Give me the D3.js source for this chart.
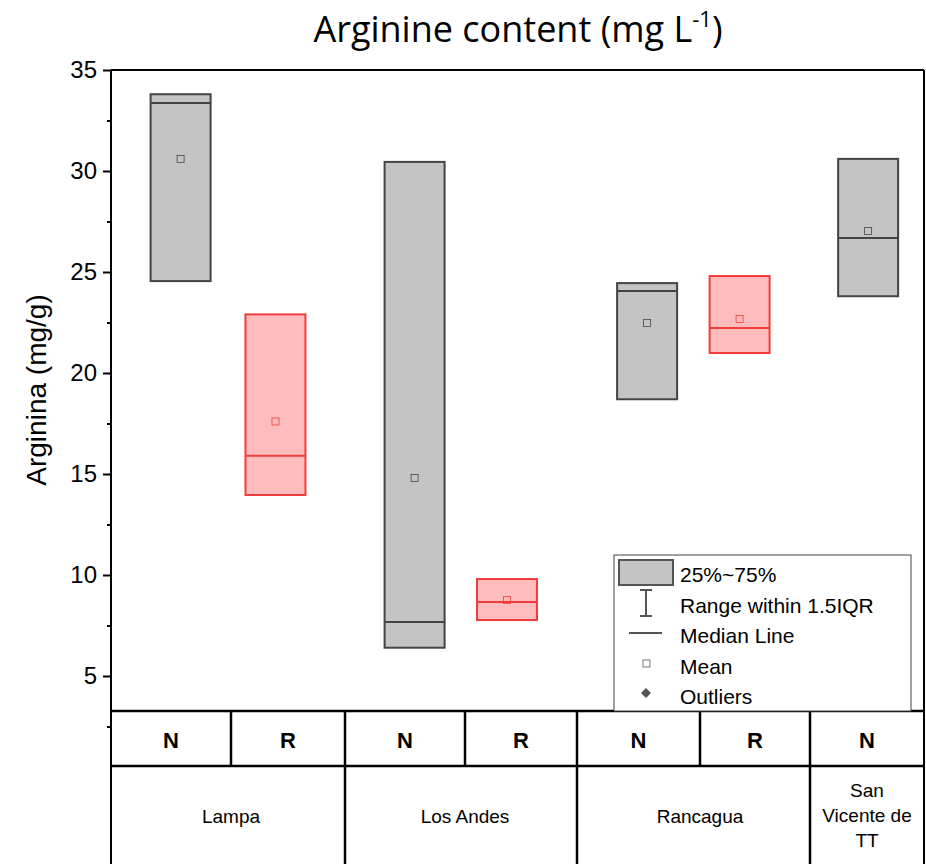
<!DOCTYPE html>
<html><head><meta charset="utf-8">
<script src="https://cdn.jsdelivr.net/npm/d3@7"></script>
<style>body{margin:0;background:#fff}text{font-family:Arial,"Liberation Sans",sans-serif}</style>
</head><body><div id="chart"></div>
<script>
// Data
const groups = ["Lampa", "Los Andes", "Rancagua", "San Vicente de TT"];
const treatments = ["N", "R", "N", "R", "N", "R", "N"];
const groupOf = [0, 0, 1, 1, 2, 2, 3];
const positions = [0.58, 1.39, 2.58, 3.375, 4.57, 5.36, 6.51];
const q1 = [24.55, 13.96, 6.4, 7.77, 18.7, 20.99, 23.8];
const q3 = [33.8, 22.9, 30.45, 9.8, 24.45, 24.8, 30.6];
const medians = [33.37, 15.9, 7.67, 8.66, 24.06, 22.23, 26.68];
const means = [30.6, 17.6, 14.8, 8.76, 22.48, 22.67, 27.03];
const yTicks = [5, 10, 15, 20, 25, 30, 35];

const width = 926, height = 864;
const plotLeft = 111, plotRight = 924, plotTop = 70, plotBottom = 711, rowMid = 766;

const svg = d3.select("#chart").append("svg").attr("width", width).attr("height", height);

// table cells are not all equal width
const x = d3.scaleLinear().domain([0, 1, 2, 3, 4, 5, 6, 7])
  .range([plotLeft, 231, 345, 465, 577, 700, 810, plotRight]);
const y = d3.scaleLinear().domain([5, 35]).range([676, plotTop]);
const boxW = 60;

const plot = svg.append("g");

// Boxes
positions.forEach((p, i) => {
  const red = treatments[i] === "R";
  const stroke = red ? "#f03c3c" : "#444";
  const fill = red ? "#ffbcbc" : "#c4c4c4";
  const cx = x(p);
  plot.append("rect")
    .attr("x", cx - boxW / 2).attr("width", boxW)
    .attr("y", y(q3[i])).attr("height", y(q1[i]) - y(q3[i]))
    .attr("fill", fill).attr("stroke", stroke).attr("stroke-width", 2);
  plot.append("line")
    .attr("x1", cx - boxW / 2).attr("x2", cx + boxW / 2)
    .attr("y1", y(medians[i])).attr("y2", y(medians[i]))
    .attr("stroke", stroke).attr("stroke-width", 2);
  plot.append("rect")
    .attr("x", cx - 3.5).attr("y", y(means[i]) - 3.5).attr("width", 7).attr("height", 7)
    .attr("fill", "none").attr("stroke", stroke).attr("stroke-width", 0.8);
});

// Frame
svg.append("line").attr("x1", plotLeft).attr("x2", plotRight).attr("y1", plotTop).attr("y2", plotTop).attr("stroke", "#000").attr("stroke-width", 2);
svg.append("line").attr("x1", plotRight).attr("x2", plotRight).attr("y1", plotTop).attr("y2", height).attr("stroke", "#000").attr("stroke-width", 2);

// Y axis
const yAxis = svg.append("g").attr("transform", `translate(${plotLeft},0)`)
  .call(d3.axisLeft(y).tickValues(yTicks).tickSize(8).tickPadding(6));
yAxis.select(".domain").remove();
yAxis.selectAll("text").attr("font-size", 24).attr("fill", "#000");
yAxis.selectAll("line").attr("stroke-width", 2);
svg.append("line").attr("x1", plotLeft).attr("x2", plotLeft).attr("y1", plotTop).attr("y2", height).attr("stroke", "#000").attr("stroke-width", 2);
svg.append("g").attr("transform", `translate(${plotLeft},0)`)
  .call(d3.axisLeft(y).tickValues(d3.range(2.5, 35, 5)).tickSize(4).tickFormat(""))
  .call(g => g.select(".domain").remove())
  .selectAll("line").attr("stroke-width", 2);

// Table
const t = svg.append("g").attr("stroke", "#000").attr("stroke-width", 2.5);
t.append("line").attr("x1", plotLeft).attr("x2", plotRight).attr("y1", plotBottom).attr("y2", plotBottom);
t.append("line").attr("x1", plotLeft).attr("x2", plotRight).attr("y1", rowMid).attr("y2", rowMid);
d3.range(1, 7).forEach(k => {
  const edge = groupOf[k] !== groupOf[k - 1];
  t.append("line").attr("x1", x(k)).attr("x2", x(k))
    .attr("y1", plotBottom).attr("y2", edge ? height : rowMid);
});
treatments.forEach((tr, i) => {
  svg.append("text").attr("x", x(i + 0.5)).attr("y", 748).attr("text-anchor", "middle")
    .attr("font-size", 22).attr("font-weight", "bold").text(tr);
});
groups.forEach((g, gi) => {
  const idx = groupOf.map((v, i) => v === gi ? i : -1).filter(i => i >= 0);
  const cx = x((idx[0] + idx[idx.length - 1] + 1) / 2);
  if (gi === 3) {
    ["San", "Vicente de", "TT"].forEach((s, j) => {
      svg.append("text").attr("x", cx).attr("y", 797 + j * 25).attr("text-anchor", "middle").attr("font-size", 19).text(s);
    });
  } else {
    svg.append("text").attr("x", cx).attr("y", 823).attr("text-anchor", "middle").attr("font-size", 19).text(g);
  }
});

// Titles
svg.append("text").attr("x", 518).attr("y", 42).attr("text-anchor", "middle").attr("font-size", 36)
  .style("font-family", "'Open Sans',sans-serif")
  .html('Arginine content (mg L<tspan dy="-15" font-size="22">-1</tspan><tspan dy="15">)</tspan>');
svg.append("text").attr("transform", "rotate(-90)").attr("x", -390).attr("y", 46)
  .attr("text-anchor", "middle").attr("font-size", 28).text("Arginina (mg/g)");

// Legend
const lg = svg.append("g");
lg.append("rect").attr("x", 614).attr("y", 555).attr("width", 297).attr("height", 156)
  .attr("fill", "#fff").attr("stroke", "#444").attr("stroke-width", 1);
lg.append("rect").attr("x", 619).attr("y", 560).attr("width", 54).attr("height", 25)
  .attr("fill", "#c4c4c4").attr("stroke", "#555").attr("stroke-width", 2);
lg.append("path").attr("d", "M640,590H652M646,590V616M640,616H652").attr("stroke", "#555").attr("stroke-width", 2).attr("fill", "none");
lg.append("line").attr("x1", 629).attr("x2", 662).attr("y1", 633).attr("y2", 633).attr("stroke", "#555").attr("stroke-width", 2);
lg.append("rect").attr("x", 643).attr("y", 660).attr("width", 7).attr("height", 7).attr("fill", "none").attr("stroke", "#555").attr("stroke-width", 0.8);
lg.append("path").attr("d", "M646,688L651,693L646,698L641,693Z").attr("fill", "#555");
["25%~75%", "Range within 1.5IQR", "Median Line", "Mean", "Outliers"].forEach((s, j) => {
  lg.append("text").attr("x", 680).attr("y", 582 + j * 30.5).attr("font-size", 21).text(s);
});
</script></body></html>
